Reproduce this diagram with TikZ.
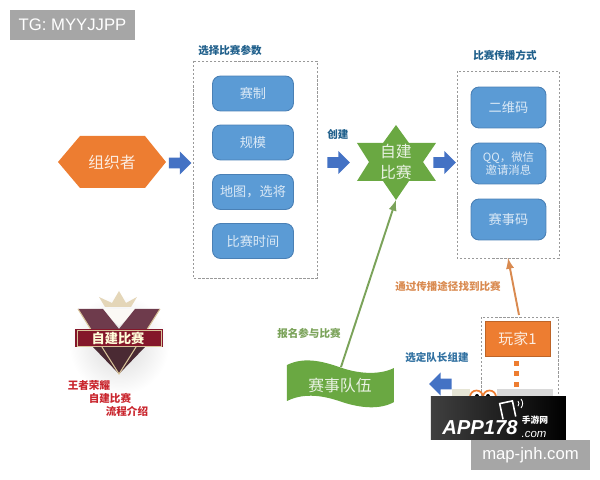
\documentclass[tikz,border=0pt]{standalone}
\usepackage{fontspec}
\setmainfont{Noto Sans CJK SC}
\newfontfamily\latinfont{Liberation Sans}
\usetikzlibrary{shapes,positioning}

\definecolor{boxblue}{HTML}{5B9BD5}
\definecolor{boxedge}{HTML}{4A80B5}
\definecolor{arrowblue}{HTML}{4472C4}
\definecolor{headblue}{HTML}{1F5F8B}
\definecolor{hexorange}{HTML}{ED7D31}
\definecolor{linegreen}{HTML}{7BA35A}
\definecolor{lineorange}{HTML}{D98A50}
\definecolor{stargreen}{HTML}{6AA842}
\definecolor{labelred}{HTML}{C9252D}
\definecolor{logomaroon}{HTML}{6E3B4C}
\definecolor{logodark}{HTML}{4A2A33}
\definecolor{logored}{HTML}{84172A}
\definecolor{logogold}{HTML}{D8C49A}

\tikzset{
  param/.style={draw=boxedge, line width=0.5pt, fill=boxblue, rounded corners=1.6mm, text=white!78!boxblue, font=\fontsize{7.5}{9}\selectfont, align=center, inner sep=0pt},
  framebox/.style={draw=gray!80, dash pattern=on 1.3pt off 1pt, line width=0.5pt},
  heading/.style={text=headblue, font=\fontsize{6}{7}\selectfont\bfseries, inner sep=0pt},
  blockarrow/.style={single arrow, fill=arrowblue, draw=none, minimum height=0.45cm, inner sep=0.1cm, single arrow head extend=0.125cm, single arrow head indent=0cm},
  stamp/.style={fill=black!35, text=white, font=\latinfont\fontsize{9.5}{11}\selectfont, inner sep=0pt, minimum height=0.6cm},
}

\begin{document}
\begin{tikzpicture}[x=0.02cm, y=-0.02cm]
  \useasboundingbox (0,0) rectangle (600,480);

  % stamps
  \node[stamp, minimum width=2.5cm] (tag) at (72.5,25) {TG: MYYJJPP};

  % organiser
  \fill[hexorange] (58,162) -- (80,136) -- (145,136) -- (166,162) -- (145,188) -- (80,188) -- cycle;
  \node[text=white!85!hexorange, font=\fontsize{9}{11}\selectfont] (organiser) at (112,162) {组织者};
  \node[blockarrow] (arrowone) at (177.5,163) {};

  % parameters
  \node[heading] (paramhead) at (230,50) {选择比赛参数};
  \draw[framebox] (193,61) rectangle (317,278);
  \node[param, minimum width=1.62cm, minimum height=0.7cm] (format) at (253,93.5) {赛制};
  \node[param, minimum width=1.62cm, minimum height=0.7cm] (scale) at (253,142.5) {规模};
  \node[param, minimum width=1.62cm, minimum height=0.7cm] (map) at (253,192) {地图，选将};
  \node[param, minimum width=1.62cm, minimum height=0.7cm] (time) at (253,241) {比赛时间};

  % create match
  \node[heading] (createhead) at (338,134) {创建};
  \node[blockarrow] (arrowtwo) at (336,162.5) {};
  \fill[stargreen] (396,125) -- (409,143) -- (436,143) -- (423,162) -- (436,181) -- (409,181)
    -- (396,200) -- (383,181) -- (357,181) -- (369,162) -- (357,143) -- (383,143) -- cycle;
  \node[text=white!85!stargreen, font=\fontsize{9}{11.5}\selectfont, align=center, inner sep=0pt] (match) at (396,162) {自建\\比赛};
  \coordinate (startip) at (396,200);
  \node[blockarrow] (arrowthree) at (442,162.5) {};

  % ways to spread
  \node[heading] (spreadhead) at (505,55) {比赛传播方式};
  \draw[framebox] (457,71) rectangle (559,258);
  \coordinate (spreadfoot) at (508,258);
  \node[param, minimum width=1.5cm, minimum height=0.82cm] (qrcode) at (508.5,107.5) {二维码};
  \node[param, minimum width=1.5cm, minimum height=0.82cm, font=\fontsize{6.5}{7.5}\selectfont] (invite) at (508.5,163.5) {QQ，微信\\邀请消息};
  \node[param, minimum width=1.5cm, minimum height=0.82cm] (code) at (508.5,219.5) {赛事码};

  % player
  \draw[framebox] (553,397) -- (558,397) -- (558,317) -- (481,317) -- (481,397);
  \coordinate (playertop) at (519,315);
  \node[fill=hexorange, draw=hexorange!80!black, line width=0.4pt, minimum width=1.3cm, minimum height=0.7cm, inner sep=0pt, text=white!85!hexorange, font=\fontsize{8.5}{10}\selectfont] (player) at (517.5,339) {玩家1};
  \fill[hexorange] (514.5,361.5) rectangle (519.5,366.5);
  \fill[hexorange] (514.5,371.5) rectangle (519.5,376.5);
  \fill[hexorange] (514.5,382.5) rectangle (519.5,387.5);
  \draw[->, >=latex, lineorange, line width=1.1pt] (playertop) -- (spreadfoot);
  \node[text=lineorange, font=\fontsize{6}{7}\selectfont\bfseries, inner sep=0pt] (findlabel) at (448,286) {通过传播途径找到比赛};

  % team
  \fill[stargreen] (287,365) .. controls (305,356) and (325,362) .. (342,368)
    .. controls (360,374) and (380,375) .. (394,368) -- (394,402)
    .. controls (380,410) and (360,408) .. (342,402) .. controls (325,396) and (305,392) .. (287,401) -- cycle;
  \node[text=white!85!stargreen, font=\fontsize{9}{11}\selectfont, inner sep=0pt] (team) at (340,385) {赛事队伍};
  \coordinate (teamtop) at (341,367);
  \draw[->, >=latex, linegreen, line width=1.1pt] (teamtop) -- (startip);
  \node[text=linegreen, font=\fontsize{6}{7}\selectfont\bfseries, inner sep=0pt] (joinlabel) at (309,333) {报名参与比赛};
  \node[text=headblue!70!boxblue, font=\fontsize{6}{7}\selectfont\bfseries, inner sep=0pt] (leaderlabel) at (437,358) {选定队长组建};
  \node[blockarrow, shape border rotate=180] (arrowfour) at (443,384) {};

  % strip behind the app stamp
  \fill[yellow!25!gray!30] (452,389) rectangle (470,397);
  \fill[gray!30] (497,389) rectangle (553,397);
  \draw[hexorange, line width=1pt] (470,397) arc[start angle=180, end angle=360, radius=6.5];
  \draw[hexorange, line width=1pt] (483,397) arc[start angle=180, end angle=360, radius=6.5];
  \fill[black] (477,396) circle (2);
  \fill[black] (488,396) circle (2);

  % app stamp
  \shade[left color=black!75, right color=black] (431,397) rectangle (566,440);
  \node[white, anchor=east, font=\latinfont\fontsize{11.5}{12}\selectfont\bfseries\itshape, inner sep=0pt] (appname) at (518,428) {APP178};
  \node[white, font=\fontsize{5}{5.5}\selectfont\bfseries, inner sep=0pt] (appcn) at (535,420) {手游网};
  \node[white, font=\latinfont\fontsize{6.5}{7}\selectfont\itshape, inner sep=0pt] (appcom) at (534,434) {.com};
  \draw[white, line width=0.9pt, rotate around={12:(508,409)}] (501,418) -- (501,402) -- (514,402) -- (514,418);
  \draw[white, line width=0.5pt] (518,401) arc[start angle=-40, end angle=40, radius=4];
  \draw[white, line width=0.5pt] (521,399) arc[start angle=-40, end angle=40, radius=7];
  \node[stamp, minimum width=2.38cm] (site) at (530.5,455) {map-jnh.com};

  % logo
  \shade[inner color=gray!30, outer color=white] (119,345) circle (50);
  \fill[logogold!70!white] (99,297) -- (112,303) -- (119,291) -- (126,303) -- (137,297) -- (131,307) -- (105,307) -- cycle;
  \fill[white!90!logogold] (100,309) -- (138,309) -- (119,326) -- cycle;
  \fill[logomaroon] (78,309) -- (103,309) -- (119,329) -- (119,374) -- cycle;
  \fill[logomaroon] (160,309) -- (135,309) -- (119,329) -- (119,374) -- cycle;
  \fill[logodark] (93,347) -- (145,347) -- (119,374) -- cycle;
  \draw[logogold, line width=0.6pt] (78,309) -- (119,374) -- (160,309);
  \fill[logored] (75,329) rectangle (163,347);
  \draw[logogold, line width=0.4pt] (77,330) rectangle (161,346);
  \node[white!85!yellow, font=\fontsize{7.5}{9}\selectfont\bfseries, inner sep=0pt] (logotext) at (118,338) {自建比赛};
  \node[text=labelred, font=\fontsize{6}{7}\selectfont\bfseries, inner sep=0pt] (gamename) at (89,386) {王者荣耀};
  \node[text=labelred, font=\fontsize{6}{7}\selectfont\bfseries, inner sep=0pt] (gametitle) at (110,398) {自建比赛};
  \node[text=labelred, font=\fontsize{6}{7}\selectfont\bfseries, inner sep=0pt] (gameflow) at (127,411) {流程介绍};
\end{tikzpicture}
\end{document}
